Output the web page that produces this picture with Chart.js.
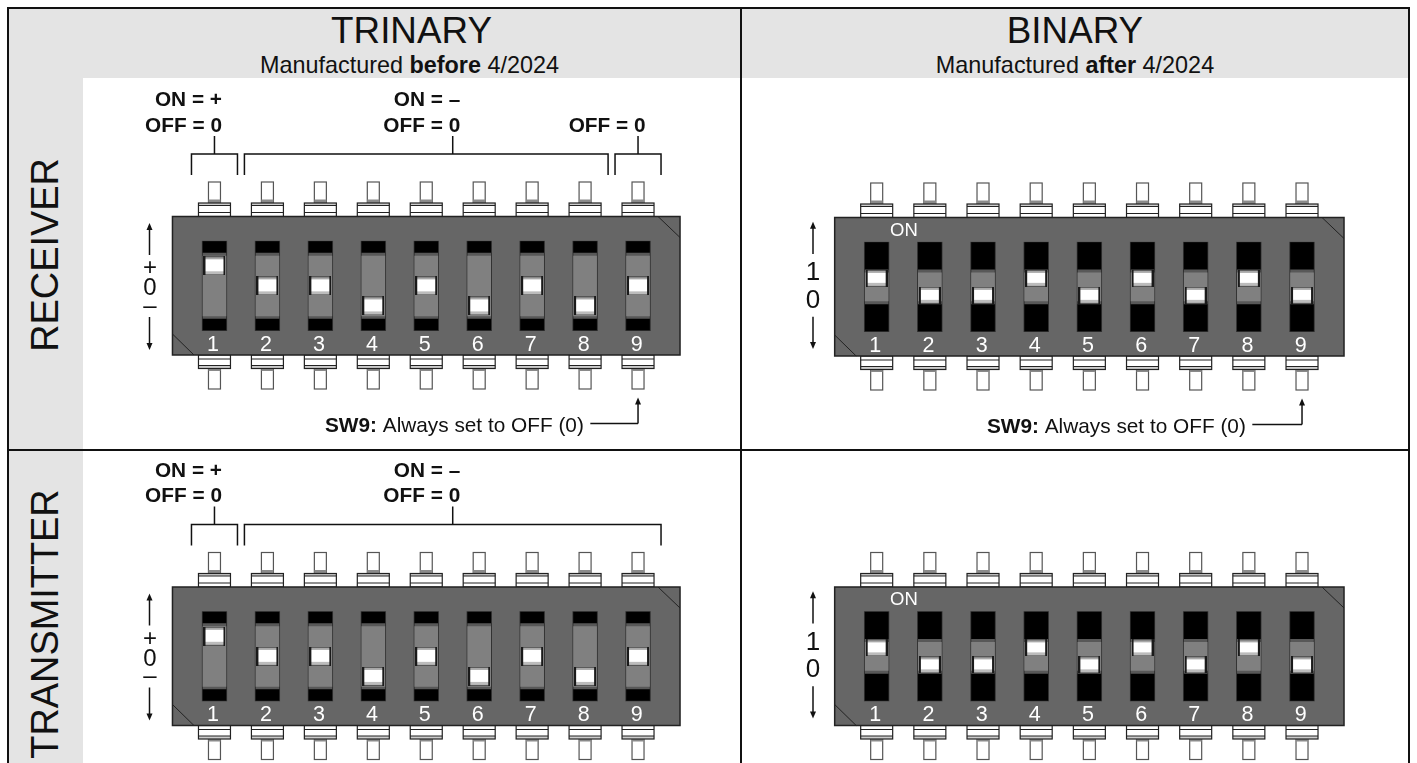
<!DOCTYPE html>
<html>
<head>
<meta charset="utf-8">
<title>DIP switch settings</title>
<script src="https://cdn.jsdelivr.net/npm/chart.js@4"></script>
<style>
    html, body { margin: 0; padding: 0; background: #fff; }
    body { width: 1417px; height: 763px; position: relative; overflow: hidden; font-family: "Liberation Sans", Arial, sans-serif; color: #111; }
    .band { position: absolute; background: #e4e4e4; }
    .rule { position: absolute; background: #111; }
    .head { position: absolute; text-align: center; white-space: nowrap; transform: translateX(-50%); }
    .title { font-size: 36.8px; line-height: 38px; top: 11.5px; }
    .sub { font-size: 23.4px; line-height: 26px; top: 51.5px; }
    .side { position: absolute; font-size: 37.9px; line-height: 40px; white-space: nowrap; transform: translate(-50%, -50%) rotate(-90deg); }
    canvas { position: absolute; }
</style>
</head>
<body>
<div class="band" style="left:8px;top:8px;width:1400px;height:70px"></div>
<div class="band" style="left:8px;top:78px;width:75px;height:685px"></div>
<div class="rule" style="left:7px;top:7px;width:1402px;height:1.5px"></div>
<div class="rule" style="left:7px;top:7px;width:1.5px;height:756px"></div>
<div class="rule" style="left:740px;top:7px;width:1.5px;height:756px"></div>
<div class="rule" style="left:1408px;top:7px;width:1.5px;height:756px"></div>
<div class="rule" style="left:7px;top:449px;width:1402px;height:1.5px"></div>
<div class="head title" style="left:411.5px">TRINARY</div>
<div class="head sub" style="left:409.5px">Manufactured <b>before</b> 4/2024</div>
<div class="head title" style="left:1075px">BINARY</div>
<div class="head sub" style="left:1075px">Manufactured <b>after</b> 4/2024</div>
<div class="side" style="left:45px;top:255px">RECEIVER</div>
<div class="side" style="left:45px;top:624px">TRANSMITTER</div>
<canvas id="rxTrinary" width="656" height="371" style="left:84px;top:78px"></canvas>
<canvas id="rxBinary" width="667" height="371" style="left:741px;top:78px"></canvas>
<canvas id="txTrinary" width="656" height="313" style="left:84px;top:450px"></canvas>
<canvas id="txBinary" width="667" height="313" style="left:741px;top:450px"></canvas>

<script>
const switches = ['1', '2', '3', '4', '5', '6', '7', '8', '9'];

// + = 1, 0 = 0, - = -1
const rxTrinaryStates = [1, 0, 0, -1, 0, -1, 0, -1, 0];
const txTrinaryStates = [1, 0, 0, -1, 0, -1, 0, -1, 0];
const rxBinaryStates = [1, 0, 0, 1, 0, 1, 0, 1, 0];
const txBinaryStates = [1, 0, 0, 1, 0, 1, 0, 1, 0];

const trinaryTicks = [0.85, -0.15, -1];
const trinaryTickLabels = ['+', '0', '–'];
const binaryTicks = [1.32, -0.32];
const binaryTickLabels = ['1', '0'];

const trinarySlot = [-2.25, 2.25];
const trinarySlider = [-1.62, 1.63];
const trinaryFace = [-1.5, 1.48];
const binarySlot = [-2.15, 3.15];
const binarySlider = [-0.5, 1.5];
const binaryFace = [-0.33, 1.32];

const rxGroups = [
    { from: 0, to: 0, stem: 0, lines: ['ON = +', 'OFF = 0'] },
    { from: 1, to: 7, stem: 4.5, lines: ['ON = –', 'OFF = 0'] },
    { from: 8, to: 8, stem: 8, lines: ['OFF = 0'] }
];
const txGroups = [
    { from: 0, to: 0, stem: 0, lines: ['ON = +', 'OFF = 0'] },
    { from: 1, to: 8, stem: 4.5, lines: ['ON = –', 'OFF = 0'] }
];

const noteBold = 'SW9:';
const noteText = ' Always set to OFF (0)';

function knobSprite(h) {
    const c = document.createElement('canvas');
    const w = 22;
    c.width = w;
    c.height = h;
    const g = c.getContext('2d');
    g.fillStyle = '#a8a8a8';
    g.fillRect(0, 0, w, 3);
    g.fillStyle = '#bcbcbc';
    g.fillRect(0, h - 4, w, 4);
    g.fillStyle = '#fff';
    g.fillRect(0, 3, w, h - 7);
    g.fillStyle = '#555';
    g.fillRect(0, 0, w, 1);
    g.fillRect(0, h - 1, w, 1);
    g.fillStyle = '#1a1a1a';
    g.fillRect(0, 0, 2, h);
    g.fillRect(w - 2, 0, 2, h);
    return c;
}

function arrow(g, x, y1, y2) {
    const dir = y2 > y1 ? 1 : -1;
    g.strokeStyle = '#111';
    g.lineWidth = 1.5;
    g.beginPath();
    g.moveTo(x, y1);
    g.lineTo(x, y2 - dir * 4);
    g.stroke();
    g.fillStyle = '#111';
    g.beginPath();
    g.moveTo(x, y2);
    g.lineTo(x - 3, y2 - dir * 7);
    g.lineTo(x + 3, y2 - dir * 7);
    g.closePath();
    g.fill();
}

function hline(g, x1, x2, y) {
    g.beginPath();
    g.moveTo(x1, y);
    g.lineTo(x2, y);
    g.stroke();
}

function drawPin(g, cx, top, bottom) {
    // stems first, the flanges and the body sit over them
    g.lineWidth = 1.2;
    g.strokeStyle = '#555';
    g.fillStyle = '#fff';
    g.fillRect(cx - 6, top - 34.5, 12, 21);
    g.strokeRect(cx - 6, top - 34.5, 12, 21);
    g.fillStyle = '#8a8a8a';
    g.fillRect(cx - 6, top - 17, 12, 3.5);
    g.fillStyle = '#fff';
    g.fillRect(cx - 6, bottom + 13.5, 12, 20.5);
    g.strokeRect(cx - 6, bottom + 13.5, 12, 20.5);
    g.fillStyle = '#8a8a8a';
    g.fillRect(cx - 6, bottom + 13.5, 12, 2.5);

    g.strokeStyle = '#222';
    g.fillStyle = '#fff';
    g.fillRect(cx - 16, top - 13.5, 32, 13.5);
    g.fillStyle = '#ccc';
    g.fillRect(cx - 16, top - 13.5, 32, 2.5);
    g.strokeRect(cx - 16, top - 13.5, 32, 13.5);
    hline(g, cx - 16, cx + 16, top - 11);
    hline(g, cx - 16, cx + 16, top - 4);
    g.fillStyle = '#fff';
    g.fillRect(cx - 16, bottom, 32, 13.5);
    g.fillStyle = '#ccc';
    g.fillRect(cx - 16, bottom + 10.5, 32, 3);
    g.strokeRect(cx - 16, bottom, 32, 13.5);
    hline(g, cx - 16, cx + 16, bottom + 4);
    hline(g, cx - 16, cx + 16, bottom + 10.5);
}

// package, pins, and the ruled notes round each switch block
const dipPackage = {
    id: 'dipPackage',
    beforeDraw(chart, args, opts) {
        const g = chart.ctx;
        const area = chart.chartArea;
        const x = chart.scales.x;
        const top = area.top - 24.2;
        const bottom = area.bottom + 24;
        const left = x.getPixelForValue(0) - 42;
        const right = x.getPixelForValue(8) + 42;
        g.save();
        switches.forEach((s, i) => drawPin(g, x.getPixelForValue(i), top, bottom));
        g.fillStyle = '#666';
        g.strokeStyle = '#222';
        g.lineWidth = 1.5;
        g.fillRect(left, top, right - left, bottom - top);
        g.strokeRect(left, top, right - left, bottom - top);
        g.lineWidth = 1;
        g.beginPath();
        g.moveTo(left, bottom - 21);
        g.lineTo(left + 21.5, bottom);
        g.moveTo(right - 22, top);
        g.lineTo(right, top + 21);
        g.stroke();

        arrow(g, opts.arrowX, area.top + opts.arrowUp[0], area.top + opts.arrowUp[1]);
        arrow(g, opts.arrowX, area.top + opts.arrowDown[0], area.top + opts.arrowDown[1]);

        if (opts.showOn) {
            g.fillStyle = '#fff';
            g.font = '18.5px "Liberation Sans"';
            g.textAlign = 'center';
            g.textBaseline = 'middle';
            g.fillText('ON', x.getPixelForValue(0) + 27.3, area.top - 11);
        }

        (opts.groups || []).forEach(gr => {
            const a = x.getPixelForValue(gr.from) - 23;
            const b = x.getPixelForValue(gr.to) + 23;
            const mid = x.getPixelForValue(gr.stem);
            const y = top - 62.5;
            g.strokeStyle = '#111';
            g.lineWidth = 1.5;
            g.beginPath();
            g.moveTo(a, y + 21);
            g.lineTo(a, y);
            g.lineTo(b, y);
            g.lineTo(b, y + 21);
            g.moveTo(mid, y);
            g.lineTo(mid, y - 18);
            g.stroke();
            g.fillStyle = '#111';
            g.font = 'bold 20.8px "Liberation Sans"';
            g.textAlign = 'right';
            g.textBaseline = 'alphabetic';
            gr.lines.slice().reverse().forEach((t, i) => {
                g.fillText(t, mid + 7.5, y - 22.3 - i * 25.7);
            });
        });

        if (opts.note) {
            const px = x.getPixelForValue(8);
            const y = bottom + 68.5;
            arrow(g, px, y, bottom + 42.5);
            g.strokeStyle = '#111';
            g.lineWidth = 1.5;
            hline(g, px - opts.noteGap, px, y);
            g.textAlign = 'left';
            g.textBaseline = 'alphabetic';
            g.fillStyle = '#111';
            g.font = '20.8px "Liberation Sans"';
            const rest = g.measureText(noteText).width;
            g.font = 'bold 20.8px "Liberation Sans"';
            const bold = g.measureText(noteBold).width;
            const end = px - opts.noteGap - 6.5;
            g.fillText(noteBold, end - rest - bold, bottom + 77);
            g.font = '20.8px "Liberation Sans"';
            g.fillText(noteText, end - rest, bottom + 77);
        }
        g.restore();
    }
};

function makeSwitchChart(id, states, cfg) {
    const fill = range => switches.map(() => range);
    return new Chart(document.getElementById(id), {
        type: 'bar',
        data: {
            labels: switches,
            datasets: [
                {
                    type: 'line',
                    data: states,
                    showLine: false,
                    pointStyle: knobSprite(cfg.knobH),
                    pointRadius: 10
                },
                {
                    data: fill(cfg.face),
                    grouped: false,
                    barThickness: 23,
                    backgroundColor: '#808080'
                },
                {
                    data: fill(cfg.slider),
                    grouped: false,
                    barThickness: 23,
                    backgroundColor: '#585858'
                },
                {
                    data: fill(cfg.slot),
                    grouped: false,
                    barThickness: 25,
                    backgroundColor: '#000',
                    borderColor: '#333',
                    borderWidth: 1,
                    borderSkipped: false
                }
            ]
        },
        options: {
            responsive: false,
            animation: false,
            events: [],
            layout: { padding: cfg.padding },
            plugins: {
                legend: { display: false },
                tooltip: { enabled: false },
                dipPackage: cfg.pkg
            },
            scales: {
                x: {
                    type: 'category',
                    offset: true,
                    grid: { display: false, drawTicks: false },
                    border: { display: false },
                    afterFit: s => { s.height = 24; },
                    ticks: {
                        color: '#fff',
                        autoSkip: false,
                        maxRotation: 0,
                        labelOffset: -1.4,
                        padding: 1,
                        font: { family: 'Liberation Sans', size: 21.5 }
                    }
                },
                y: {
                    min: cfg.slot[0],
                    max: cfg.slot[1],
                    grid: { display: false, drawTicks: false },
                    border: { display: false },
                    afterFit: s => { s.width = 60; },
                    afterBuildTicks: s => { s.ticks = cfg.ticks.map(v => ({ value: v })); },
                    ticks: {
                        color: '#111',
                        crossAlign: 'center',
                        padding: cfg.tickPad,
                        font: { family: 'Liberation Sans', size: cfg.tickSize },
                        callback: v => cfg.tickLabels[cfg.ticks.indexOf(v)]
                    }
                }
            }
        },
        plugins: [dipPackage]
    });
}

makeSwitchChart('rxTrinary', rxTrinaryStates, {
    slot: trinarySlot, slider: trinarySlider, face: trinaryFace, knobH: 19,
    ticks: trinaryTicks, tickLabels: trinaryTickLabels, tickSize: 24, tickPad: 31,
    padding: { left: 44, top: 162.7, right: 75.5, bottom: 94 },
    pkg: { arrowX: 149.5 - 84, arrowUp: [14.3, -17.7], arrowDown: [76.3, 109.3], groups: rxGroups, note: true, noteGap: 47.7 }
});
makeSwitchChart('rxBinary', rxBinaryStates, {
    slot: binarySlot, slider: binarySlider, face: binaryFace, knobH: 17,
    ticks: binaryTicks, tickLabels: binaryTickLabels, tickSize: 26, tickPad: 30,
    padding: { left: 49.1, top: 163.7, right: 79.4, bottom: 93 },
    pkg: { arrowX: 813 - 741, arrowUp: [12.3, -20], arrowDown: [75, 107.3], showOn: true, note: true, noteGap: 49.7 }
});
makeSwitchChart('txTrinary', txTrinaryStates, {
    slot: trinarySlot, slider: trinarySlider, face: trinaryFace, knobH: 19,
    ticks: trinaryTicks, tickLabels: trinaryTickLabels, tickSize: 24, tickPad: 31,
    padding: { left: 44, top: 161.2, right: 75.5, bottom: 37.5 },
    pkg: { arrowX: 149.5 - 84, arrowUp: [14.3, -17.7], arrowDown: [76.3, 109.3], groups: txGroups }
});
makeSwitchChart('txBinary', txBinaryStates, {
    slot: binarySlot, slider: binarySlider, face: binaryFace, knobH: 17,
    ticks: binaryTicks, tickLabels: binaryTickLabels, tickSize: 26, tickPad: 30,
    padding: { left: 49.1, top: 161.2, right: 79.4, bottom: 37.5 },
    pkg: { arrowX: 813 - 741, arrowUp: [12.3, -20], arrowDown: [75, 107.3], showOn: true }
});
</script>
</body>
</html>
